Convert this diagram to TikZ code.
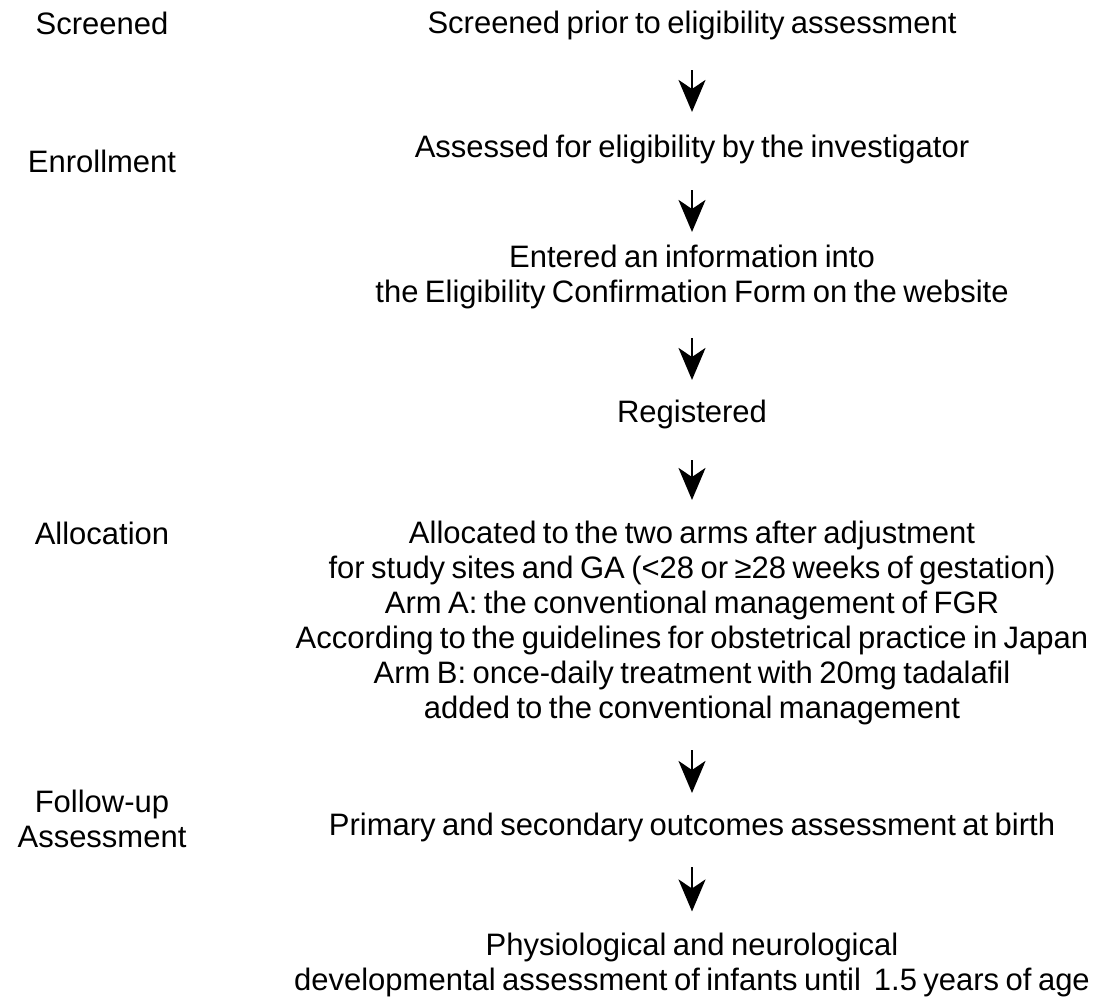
\documentclass[tikz,border=0pt]{standalone}
\usepackage{fontspec}
\setmainfont{Liberation Sans}[WordSpace = 0.75]
\usepackage{tikz}
\usetikzlibrary{arrows.meta}

\begin{document}
\begin{tikzpicture}[x = 1pt, y = -1pt,
	every node/.style = {inner sep = 0pt, align = center, font = \fontsize{31}{35}\selectfont},
	flow/.style = {line width = 2.5pt, -{Stealth[length = 32pt, width = 27pt, inset = 9pt]}}]
			\useasboundingbox (0,0) rectangle (1095,997);
			% stage labels on the left
			\node (lscr) at (102,23.7) {Screened};
			\node (lenr) at (102,161.7) {Enrollment};
			\node (lall) at (102,533.7) {Allocation};
			\node (lfol) at (102,819.2) {Follow-up\\Assessment};
			% flow in the middle
			\node (scr) at (692,25) {Screened prior to eligibility assessment};
			\node (ass) at (692,149) {Assessed for eligibility by the investigator};
			\node (ent) at (692,276.5) {Entered an information into\\the Eligibility Confirmation Form on the website};
			\node (reg) at (692,414) {Registered};
			\node (all) at (692,622.5) {Allocated to the two arms after adjustment\\for study sites and GA (<28 or ≥28 weeks of gestation)\\Arm A: the conventional management of FGR\\According to the guidelines for obstetrical practice in Japan\\Arm B: once-daily treatment with 20mg tadalafil\\added to the conventional management};
			\node (pri) at (692,827) {Primary and secondary outcomes assessment at birth};
			\node (phy) at (692,965) {Physiological and neurological\\developmental assessment of infants until~ 1.5 years of age};
			\draw[flow, shorten < = 30.5pt, shorten > = 22.4pt] (scr) edge (ass);
			\draw[flow, shorten < = 26.5pt, shorten > = 12.4pt] (ass) edge (ent);
			\draw[flow, shorten < = 29.5pt, shorten > = 19.4pt] (ent) edge (reg);
			\draw[flow, shorten < = 31.5pt, shorten > = 20.4pt] (reg) edge (all);
			\draw[flow, shorten < = 25.5pt, shorten > = 19.4pt] (all) edge (pri);
			\draw[flow, shorten < = 25.5pt, shorten > = 21.4pt] (pri) edge (phy);
			\end{tikzpicture}
\end{document}
